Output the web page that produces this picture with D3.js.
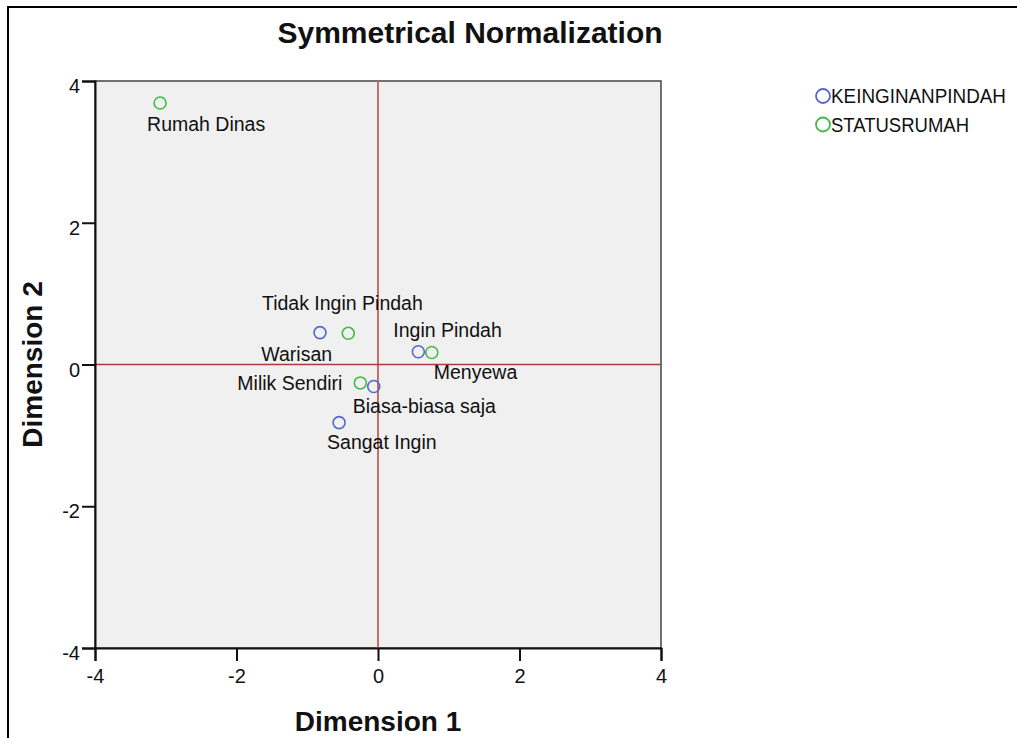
<!DOCTYPE html>
<html>
<head>
<meta charset="utf-8">
<script src="https://cdn.jsdelivr.net/npm/d3@7"></script>
<style>
  body { margin: 0; background: #fff; }
  text { font-family: "Liberation Sans", Arial, sans-serif; fill: #111; }
</style>
</head>
<body>
<div id="chart"></div>
<script>
// category points
const pointNames = ["Tidak Ingin Pindah", "Ingin Pindah", "Biasa-biasa saja", "Sangat Ingin",
                    "Rumah Dinas", "Warisan", "Menyewa", "Milik Sendiri"];
const pointGroups = ["KEINGINANPINDAH", "KEINGINANPINDAH", "KEINGINANPINDAH", "KEINGINANPINDAH",
                     "STATUSRUMAH", "STATUSRUMAH", "STATUSRUMAH", "STATUSRUMAH"];
const dim1 = [-0.82, 0.57, -0.06, -0.55, -3.08, -0.42, 0.76, -0.25];
const dim2 = [0.45, 0.18, -0.31, -0.82, 3.69, 0.44, 0.17, -0.26];
const groups = ["KEINGINANPINDAH", "STATUSRUMAH"];
const tickValues = [-4, -2, 0, 2, 4];

// label placement relative to each point (px)
const labelOffset = {
  "Tidak Ingin Pindah": [-58, -23],
  "Ingin Pindah": [-25, -15],
  "Biasa-biasa saja": [-21, 27],
  "Sangat Ingin": [-12, 26],
  "Rumah Dinas": [-13, 28],
  "Warisan": [-87, 28],
  "Menyewa": [2, 27],
  "Milik Sendiri": [-123, 7]
};

const W = 1017, H = 738;
const plot = {left: 95, right: 661, top: 81, bottom: 648};

const color = d3.scaleOrdinal().domain(groups).range(["#5468c8", "#44bb44"]);
const x = d3.scaleLinear().domain([-4, 4]).range([plot.left, plot.right]);
const y = d3.scaleLinear().domain([-4, 4]).range([plot.bottom, plot.top]);

const svg = d3.select("#chart").append("svg")
    .attr("width", W)
    .attr("height", H);

// outer frame
svg.append("rect")
    .attr("x", 8).attr("y", 7)
    .attr("width", W + 20).attr("height", H + 20)
    .attr("fill", "#fff")
    .attr("stroke", "#000")
    .attr("stroke-width", 2);

svg.append("text")
    .attr("x", 470).attr("y", 43)
    .attr("text-anchor", "middle")
    .style("font-size", "30px").style("font-weight", "bold")
    .text("Symmetrical Normalization");

// plot background
svg.append("rect")
    .attr("x", plot.left).attr("y", plot.top)
    .attr("width", plot.right - plot.left).attr("height", plot.bottom - plot.top)
    .attr("fill", "#f0f0f0")
    .attr("stroke", "#444")
    .attr("stroke-width", 1.5);

// reference lines
svg.append("line")
    .attr("x1", x(0)).attr("x2", x(0))
    .attr("y1", plot.top).attr("y2", plot.bottom)
    .attr("stroke", "#c86c6c").attr("stroke-width", 2);
svg.append("line")
    .attr("x1", plot.left).attr("x2", plot.right)
    .attr("y1", y(0)).attr("y2", y(0))
    .attr("stroke", "#b03a3a").attr("stroke-width", 1.5);

// axes
const fmt = d => String(d);
const xAxis = d3.axisBottom(x).tickValues(tickValues).tickSize(13).tickPadding(7).tickFormat(fmt);
const yAxis = d3.axisLeft(y).tickValues(tickValues).tickSize(13).tickPadding(2).tickFormat(fmt);

const gx = svg.append("g")
    .attr("transform", "translate(0," + plot.bottom + ")")
    .call(xAxis);
const gy = svg.append("g")
    .attr("transform", "translate(" + plot.left + ",0)")
    .call(yAxis);

[gx, gy].forEach(g => {
  g.select(".domain").attr("stroke", "#111").attr("stroke-width", 2);
  g.selectAll(".tick line").attr("stroke", "#111").attr("stroke-width", 2);
  g.selectAll(".tick text")
      .style("font-size", "20px")
      .style("font-family", "'Liberation Sans', Arial, sans-serif")
      .attr("fill", "#111");
});
gy.selectAll(".tick text").attr("dy", "0.58em");
gx.selectAll(".tick text").attr("dy", "0.74em");

svg.append("text")
    .attr("x", x(0)).attr("y", 731)
    .attr("text-anchor", "middle")
    .style("font-size", "28px").style("font-weight", "bold")
    .text("Dimension 1");

svg.append("text")
    .attr("transform", "translate(42," + y(0) + ") rotate(-90)")
    .attr("text-anchor", "middle")
    .style("font-size", "28px").style("font-weight", "bold")
    .text("Dimension 2");

// points
const points = pointNames.map((name, i) => ({name, group: pointGroups[i], d1: dim1[i], d2: dim2[i]}));

const pg = svg.append("g");
pg.selectAll("circle")
    .data(points)
    .enter().append("circle")
    .attr("cx", d => x(d.d1))
    .attr("cy", d => y(d.d2))
    .attr("r", 6)
    .attr("fill", "none")
    .attr("stroke", d => color(d.group))
    .attr("stroke-width", 1.6);

pg.selectAll("text")
    .data(points)
    .enter().append("text")
    .attr("x", d => x(d.d1) + labelOffset[d.name][0])
    .attr("y", d => y(d.d2) + labelOffset[d.name][1])
    .style("font-size", "19.5px")
    .text(d => d.name);

// legend
const legend = svg.append("g");
groups.forEach((g, i) => {
  const ly = 96 + i * 28.5;
  legend.append("circle")
      .attr("cx", 823).attr("cy", ly)
      .attr("r", 7)
      .attr("fill", "none")
      .attr("stroke", color(g))
      .attr("stroke-width", 1.8);
  legend.append("text")
      .attr("x", 831).attr("y", ly + 7)
      .style("font-size", "20px")
      .attr("textLength", g === "KEINGINANPINDAH" ? 175 : 138)
      .attr("lengthAdjust", "spacingAndGlyphs")
      .text(g);
});
</script>
</body>
</html>
